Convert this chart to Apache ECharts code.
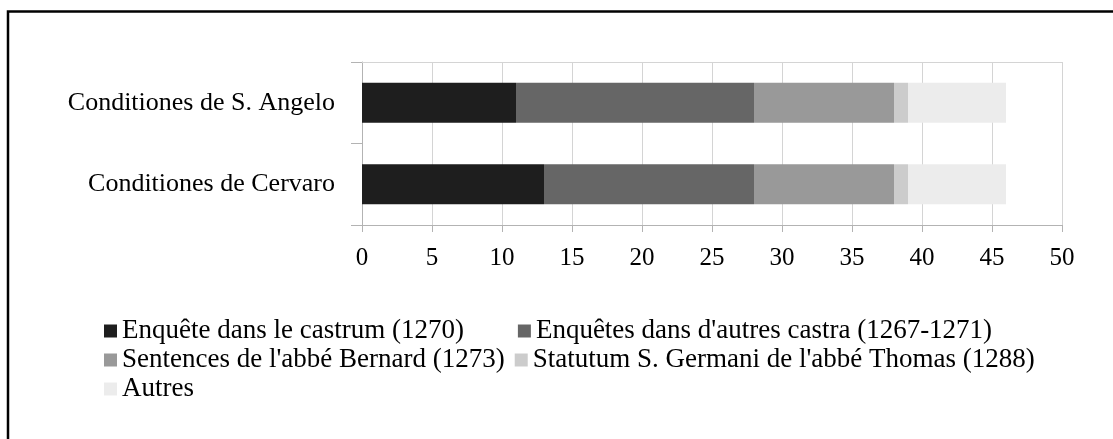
<!DOCTYPE html>
<html><head><meta charset="utf-8">
<script src="https://cdn.jsdelivr.net/npm/echarts@6/dist/echarts.min.js"></script>
<style>html,body{margin:0;padding:0;background:#fff}#c{width:1113px;height:439px}</style>
</head><body><div id="c"></div>
<script>
const categories = ["Conditiones de Cervaro", "Conditiones de S. Angelo"];
const seriesNames = ["Enquête dans le castrum (1270)", "Enquêtes dans d'autres castra (1267-1271)", "Sentences de l'abbé Bernard (1273)", "Statutum S. Germani de l'abbé Thomas (1288)", "Autres"];
const enqueteCastrum = [13, 11];
const enquetesAutres = [15, 17];
const sentencesBernard = [10, 10];
const statutumThomas = [1, 1];
const autres = [7, 7];
const xTicks = [0, 5, 10, 15, 20, 25, 30, 35, 40, 45, 50];
const colors = ["#1e1e1e", "#666666", "#999999", "#cccccc", "#ececec"];
const values = [enqueteCastrum, enquetesAutres, sentencesBernard, statutumThomas, autres];
const font = "'Liberation Serif', 'Times New Roman', serif";
const chart = echarts.init(document.getElementById('c'), null, {renderer: 'canvas'});
const txt = {fontFamily: font, fontSize: 25, color: '#000'};
const txtBig = {fontFamily: font, fontSize: 26, color: '#000'};
const txtLegend = {fontFamily: font, fontSize: 27, color: '#000'};
const legendBase = {left: 104, itemWidth: 13, itemHeight: 13, icon: 'rect', textStyle: txtLegend, padding: 0, selectedMode: false};
chart.setOption({
  animation: false,
  backgroundColor: '#fff',
  color: colors,
  grid: {left: 362, right: 51, top: 62, bottom: 214, containLabel: false},
  xAxis: [{
    type: 'value', min: xTicks[0], max: xTicks[xTicks.length - 1], interval: 5,
    axisLine: {show: true, lineStyle: {color: '#b3b3b3', width: 1}},
    axisTick: {show: true, length: 7, lineStyle: {color: '#b3b3b3'}},
    axisLabel: Object.assign({margin: 21}, txt),
    splitLine: {show: true, lineStyle: {color: '#d4d4d4', width: 1}}
  }, {
    type: 'value', position: 'top', min: 0, max: 50,
    axisLine: {show: true, onZero: false, lineStyle: {color: '#d4d4d4', width: 1}},
    axisTick: {show: false}, axisLabel: {show: false}, splitLine: {show: false}
  }],
  yAxis: {
    type: 'category', data: categories,
    axisLine: {show: true, lineStyle: {color: '#b3b3b3'}},
    axisTick: {show: true, length: 11, lineStyle: {color: '#b3b3b3'}},
    axisLabel: Object.assign({margin: 27}, txtBig),
    splitLine: {show: false}
  },
  legend: [
    Object.assign({data: [seriesNames[0], seriesNames[1]], top: 317.5, itemGap: 54}, legendBase),
    Object.assign({data: [seriesNames[2], seriesNames[3]], top: 346.5, itemGap: 10}, legendBase),
    Object.assign({data: [seriesNames[4]], top: 375.5}, legendBase)
  ],
  graphic: [{
    type: 'polyline', silent: true,
    shape: {points: [[8, 445], [8, 11.5], [1120, 11.5]]},
    style: {stroke: '#000', lineWidth: 2.5, fill: null}
  }],
  series: seriesNames.map((n, i) => ({
    name: n, type: 'bar', stack: 'total', barWidth: 40,
    data: values[i], itemStyle: {color: colors[i]}
  }))
});
</script></body></html>
